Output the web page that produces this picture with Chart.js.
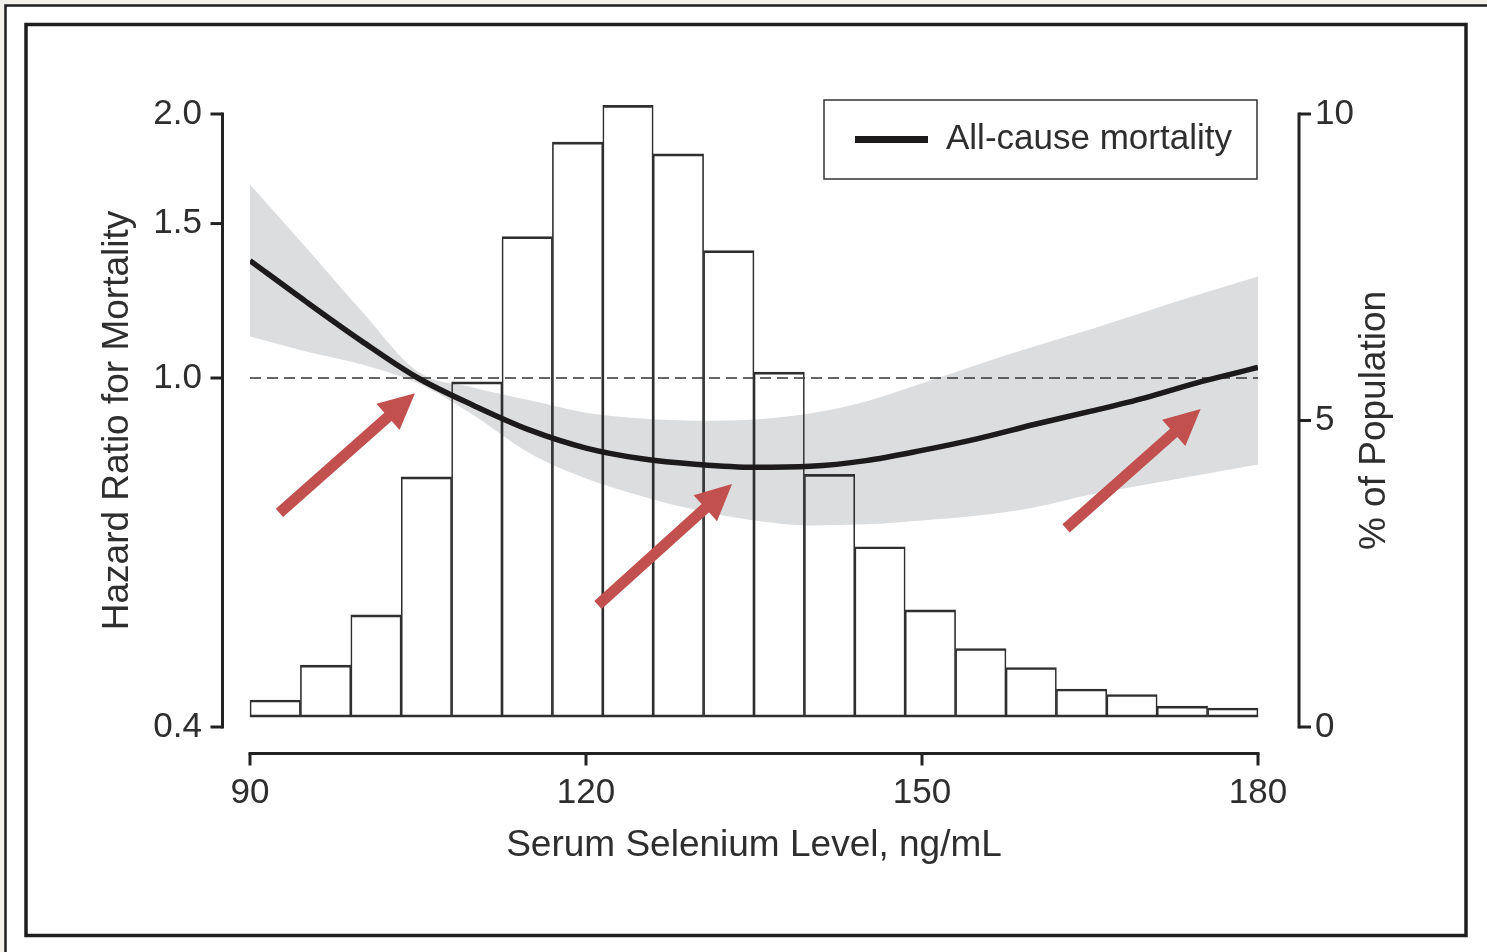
<!DOCTYPE html>
<html><head><meta charset="utf-8">
<script src="https://cdn.jsdelivr.net/npm/chart.js@4.4.1/dist/chart.umd.min.js"></script>
<style>
html,body{margin:0;padding:0;background:#f2f0eb;}
canvas{display:block;}
</style></head><body>
<canvas id="c" width="1487" height="952"></canvas>
<script>
// ---- data ----
const selenium    = [90, 95, 100, 105, 110, 115, 120, 125, 130, 135, 140, 145, 150, 155, 160, 165, 170, 175, 180];
const hazardRatio = [1.361, 1.222, 1.101, 1.0, 0.930, 0.872, 0.832, 0.809, 0.797, 0.791, 0.793, 0.805, 0.827, 0.853, 0.885, 0.916, 0.950, 0.991, 1.028];
const ciUpper     = [1.662, 1.409, 1.191, 1.017, 0.975, 0.943, 0.913, 0.899, 0.894, 0.897, 0.911, 0.940, 0.986, 1.036, 1.086, 1.136, 1.191, 1.248, 1.305];
const ciLower     = [1.115, 1.072, 1.036, 0.986, 0.906, 0.820, 0.768, 0.733, 0.706, 0.688, 0.679, 0.681, 0.688, 0.697, 0.712, 0.736, 0.756, 0.776, 0.797];
const binCenters  = [92.25, 96.75, 101.25, 105.75, 110.25, 114.75, 119.25, 123.75, 128.25, 132.75, 137.25, 141.75, 146.25, 150.75, 155.25, 159.75, 164.25, 168.75, 173.25, 177.75];
const populationPct = [0.44, 1.01, 1.83, 4.08, 5.63, 8.00, 9.54, 10.14, 9.35, 7.77, 5.79, 4.12, 2.94, 1.91, 1.28, 0.97, 0.62, 0.53, 0.34, 0.31];
const histBase    = 0.16;
const refHR       = 1.0;
const xTicks      = [90, 120, 150, 180];
const hrTicks     = [0.4, 1.0, 1.5, 2.0];
const pctTicks    = [0, 5, 10];
const arrowTailX  = [92.63, 121.07, 162.86];
const arrowTailHR = [0.702, 0.551, 0.674];
const arrowTipX   = [104.73, 133.04, 174.88];
const arrowTipHR  = [0.961, 0.757, 0.922];

const FONT = "'Liberation Sans', Arial, sans-serif";
const TXT = '#2e2e2e';
const FS_TICK = 35, FS_TITLE = 37, FS_LEG = 35;

const framePlugin = {
  id: 'frame',
  beforeDraw(chart) {
    const ctx = chart.ctx;
    ctx.save();
    ctx.fillStyle = '#f2f0eb';
    ctx.fillRect(0, 0, 1487, 952);
    ctx.fillStyle = '#ffffff';
    ctx.fillRect(5, 5, 1482, 947);
    ctx.strokeStyle = '#1e1e1e';
    ctx.lineWidth = 2.5;
    ctx.beginPath();
    ctx.moveTo(5.5, 952); ctx.lineTo(5.5, 5.5); ctx.lineTo(1487, 5.5);
    ctx.stroke();
    ctx.lineWidth = 3.5;
    ctx.strokeRect(26, 24.5, 1440, 911);
    ctx.restore();
  }
};

const axesPlugin = {
  id: 'axesDraw',
  afterDraw(chart) {
    const ctx = chart.ctx, ca = chart.chartArea;
    const sx = chart.scales.x, sy = chart.scales.y, sy1 = chart.scales.y1;
    ctx.save();
    ctx.strokeStyle = '#222';
    ctx.lineWidth = 3;
    ctx.lineCap = 'butt';
    // left axis
    const lx = ca.left - 27.5;
    ctx.beginPath();
    ctx.moveTo(lx, sy.getPixelForValue(hrTicks[hrTicks.length - 1]) - 1.5);
    ctx.lineTo(lx, sy.getPixelForValue(hrTicks[0]) + 1.5);
    ctx.stroke();
    hrTicks.forEach(v => {
      const p = sy.getPixelForValue(v);
      ctx.beginPath(); ctx.moveTo(lx - 12, p); ctx.lineTo(lx, p); ctx.stroke();
    });
    // right axis
    const rx = ca.right + 41;
    ctx.beginPath();
    ctx.moveTo(rx, sy1.getPixelForValue(pctTicks[pctTicks.length - 1]) - 1.5);
    ctx.lineTo(rx, sy1.getPixelForValue(pctTicks[0]) + 1.5);
    ctx.stroke();
    pctTicks.forEach(v => {
      const p = sy1.getPixelForValue(v);
      ctx.beginPath(); ctx.moveTo(rx, p); ctx.lineTo(rx + 12, p); ctx.stroke();
    });
    // x axis
    const by = ca.bottom + 26.5;
    ctx.beginPath();
    ctx.moveTo(sx.getPixelForValue(xTicks[0]) - 1.5, by);
    ctx.lineTo(sx.getPixelForValue(xTicks[xTicks.length - 1]) + 1.5, by);
    ctx.stroke();
    xTicks.forEach(v => {
      const p = sx.getPixelForValue(v);
      ctx.beginPath(); ctx.moveTo(p, by); ctx.lineTo(p, by + 12); ctx.stroke();
    });
    // right axis title (reads bottom-to-top)
    ctx.fillStyle = TXT;
    ctx.font = FS_TITLE + 'px ' + FONT;
    ctx.textAlign = 'center';
    ctx.textBaseline = 'middle';
    ctx.translate(ca.right + 117, (ca.top + ca.bottom) / 2);
    ctx.rotate(-Math.PI / 2);
    ctx.fillText('% of Population', 0, 0);
    ctx.restore();

    // legend
    ctx.save();
    const bx = ca.right - 434, bw = 433, btop = ca.top - 14, bh = 79;
    ctx.fillStyle = '#fff';
    ctx.fillRect(bx, btop, bw, bh);
    ctx.strokeStyle = '#333';
    ctx.lineWidth = 1.5;
    ctx.strokeRect(bx, btop, bw, bh);
    ctx.strokeStyle = '#1c1a1b';
    ctx.lineWidth = 7;
    ctx.beginPath();
    ctx.moveTo(bx + 31, btop + bh / 2);
    ctx.lineTo(bx + 104, btop + bh / 2);
    ctx.stroke();
    ctx.fillStyle = TXT;
    ctx.font = FS_LEG + 'px ' + FONT;
    ctx.textAlign = 'left';
    ctx.textBaseline = 'middle';
    ctx.fillText('All-cause mortality', bx + 122, btop + bh / 2);
    ctx.restore();
  }
};

const arrowPlugin = {
  id: 'arrows',
  afterDatasetsDraw(chart) {
    const ctx = chart.ctx, sx = chart.scales.x, sy = chart.scales.y;
    ctx.save();
    ctx.fillStyle = '#c1504e';
    for (let i = 0; i < arrowTailX.length; i++) {
      const x0 = sx.getPixelForValue(arrowTailX[i]), y0 = sy.getPixelForValue(arrowTailHR[i]);
      const x1 = sx.getPixelForValue(arrowTipX[i]),  y1 = sy.getPixelForValue(arrowTipHR[i]);
      const dx = x1 - x0, dy = y1 - y0, L = Math.hypot(dx, dy);
      const ux = dx / L, uy = dy / L, nx = -uy, ny = ux;
      const hl = 36, hw = 17.5, sw = 5.5;
      const bxp = x1 - ux * hl, byp = y1 - uy * hl;
      ctx.beginPath();
      ctx.moveTo(x0 + nx * sw, y0 + ny * sw);
      ctx.lineTo(bxp + nx * sw, byp + ny * sw);
      ctx.lineTo(bxp + nx * hw, byp + ny * hw);
      ctx.lineTo(x1, y1);
      ctx.lineTo(bxp - nx * hw, byp - ny * hw);
      ctx.lineTo(bxp - nx * sw, byp - ny * sw);
      ctx.lineTo(x0 - nx * sw, y0 - ny * sw);
      ctx.closePath();
      ctx.fill();
    }
    ctx.restore();
  }
};

const pts = (xs, ys) => xs.map((x, i) => ({ x: x, y: ys[i] }));
const tickFont = { family: FONT, size: FS_TICK, lineHeight: 1.2 };
const titleFont = { family: FONT, size: FS_TITLE, lineHeight: 1.2 };

new Chart(document.getElementById('c'), {
  type: 'line',
  data: {
    datasets: [
      {
        label: 'CI upper', data: pts(selenium, ciUpper), yAxisID: 'y',
        borderWidth: 0, pointRadius: 0, fill: '+1', backgroundColor: '#dcdddf',
        cubicInterpolationMode: 'monotone', order: 5
      },
      {
        label: 'CI lower', data: pts(selenium, ciLower), yAxisID: 'y',
        borderWidth: 0, pointRadius: 0, fill: false,
        cubicInterpolationMode: 'monotone', order: 5
      },
      {
        type: 'bar', label: '% of Population', yAxisID: 'y1',
        data: binCenters.map((x, i) => ({ x: x, y: [histBase, populationPct[i]] })),
        backgroundColor: 'rgba(0,0,0,0)', borderColor: '#2f2f2f',
        borderWidth: { top: 2, bottom: 2, left: 1, right: 1 }, borderSkipped: false,
        barPercentage: 1, categoryPercentage: 1, grouped: false, clip: false, order: 4
      },
      {
        label: 'Reference', data: pts([selenium[0], selenium[selenium.length - 1]], [refHR, refHR]), yAxisID: 'y',
        borderColor: '#333', borderWidth: 1.6, borderDash: [11, 6], pointRadius: 0, fill: false, order: 3
      },
      {
        label: 'All-cause mortality', data: pts(selenium, hazardRatio), yAxisID: 'y',
        borderColor: '#1c1a1b', borderWidth: 5.5, pointRadius: 0, fill: false,
        cubicInterpolationMode: 'monotone', order: 1
      }
    ]
  },
  options: {
    responsive: false,
    animation: false,
    layout: { padding: { top: 114, left: 0, right: 0, bottom: 0 } },
    plugins: { legend: { display: false }, tooltip: { enabled: false } },
    scales: {
      x: {
        type: 'linear', min: 90, max: 180, offset: false,
        grid: { display: false, drawTicks: false }, border: { display: false },
        afterBuildTicks: s => { s.ticks = xTicks.map(v => ({ value: v })); },
        afterFit: s => { s.height = 225; },
        ticks: { padding: 45, color: TXT, font: tickFont, callback: v => String(v) },
        title: { display: true, text: 'Serum Selenium Level, ng/mL', color: TXT,
                 font: titleFont, padding: { top: 0, bottom: 84 } }
      },
      y: {
        type: 'logarithmic', position: 'left', min: 0.4, max: 2.0,
        grid: { display: false, drawTicks: false }, border: { display: false },
        afterBuildTicks: s => { s.ticks = hrTicks.map(v => ({ value: v })); },
        afterFit: s => { s.width = 250; },
        ticks: { padding: 48, color: TXT, font: tickFont, callback: v => Number(v).toFixed(1) },
        title: { display: true, text: 'Hazard Ratio for Mortality', color: TXT,
                 font: titleFont, padding: { top: 96, bottom: 0 } }
      },
      y1: {
        type: 'linear', position: 'right', min: 0, max: 10,
        grid: { display: false, drawTicks: false }, border: { display: false },
        afterBuildTicks: s => { s.ticks = pctTicks.map(v => ({ value: v })); },
        afterFit: s => { s.width = 229; },
        ticks: { padding: 57, color: TXT, font: tickFont, callback: v => String(v) }
      }
    }
  },
  plugins: [framePlugin, arrowPlugin, axesPlugin]
});
</script>
</body></html>
